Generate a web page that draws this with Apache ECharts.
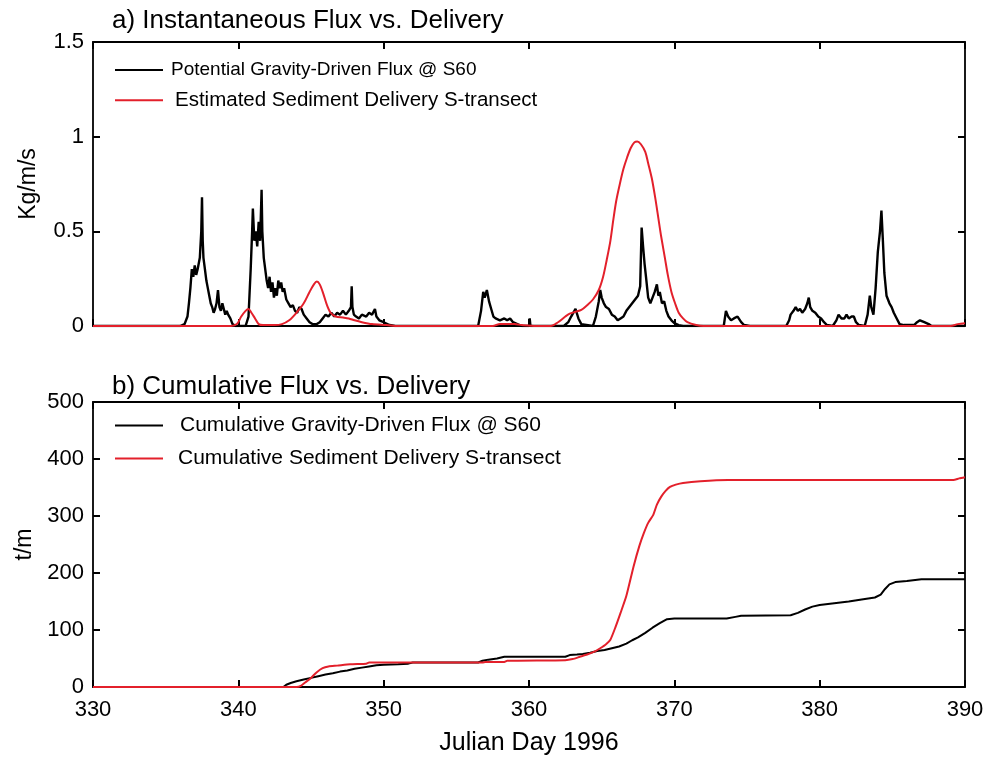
<!DOCTYPE html>
<html>
<head>
<meta charset="utf-8">
<script src="https://cdn.jsdelivr.net/npm/echarts@6/dist/echarts.min.js"></script>
<style>html,body{margin:0;padding:0;background:#fff}#c{width:993px;height:761px}</style>
</head>
<body>
<div id="c"></div>
<script>
// ---- data ----
const xTicks = [330, 340, 350, 360, 370, 380, 390];
const yTicksTop = [0, 0.5, 1, 1.5];
const yTicksBottom = [0, 100, 200, 300, 400, 500];

// a) instantaneous flux (Kg/m/s)
const fluxS60 = [[330,0],[336.0,0],[336.3,0.01],[336.5,0.05],[336.6,0.12],[336.7,0.2],[336.8,0.3],[336.9,0.26],[337.0,0.32],[337.1,0.27],[337.2,0.3],[337.35,0.36],[337.45,0.5],[337.5,0.68],[337.55,0.45],[337.6,0.36],[337.7,0.3],[337.8,0.24],[337.9,0.2],[338.0,0.16],[338.1,0.12],[338.2,0.1],[338.3,0.07],[338.4,0.09],[338.5,0.12],[338.6,0.19],[338.7,0.1],[338.8,0.08],[338.9,0.12],[339.0,0.09],[339.1,0.06],[339.2,0.08],[339.3,0.06],[339.45,0.04],[339.6,0.01],[339.8,0],[340.5,0],[340.7,0.05],[340.85,0.3],[340.95,0.5],[341.0,0.62],[341.1,0.45],[341.2,0.5],[341.3,0.42],[341.4,0.55],[341.5,0.45],[341.6,0.72],[341.65,0.5],[341.75,0.36],[341.85,0.3],[341.95,0.24],[342.05,0.2],[342.15,0.26],[342.25,0.18],[342.35,0.23],[342.45,0.15],[342.55,0.2],[342.65,0.16],[342.75,0.24],[342.85,0.2],[342.95,0.23],[343.05,0.18],[343.15,0.2],[343.3,0.14],[343.45,0.12],[343.6,0.1],[343.75,0.11],[343.9,0.08],[344.05,0.07],[344.2,0.1],[344.35,0.09],[344.5,0.06],[344.7,0.04],[344.9,0.02],[345.1,0.01],[345.4,0.01],[345.6,0.02],[345.8,0.04],[346.0,0.06],[346.2,0.05],[346.4,0.07],[346.6,0.05],[346.8,0.07],[347.0,0.06],[347.2,0.08],[347.4,0.06],[347.6,0.08],[347.75,0.1],[347.8,0.21],[347.85,0.1],[347.95,0.06],[348.1,0.05],[348.3,0.04],[348.5,0.06],[348.6,0.07],[348.8,0.05],[349.0,0.07],[349.2,0.06],[349.4,0.09],[349.5,0.05],[349.7,0.03],[350.0,0.02],[350.4,0.005],[350.8,0],[356.5,0],[356.7,0.08],[356.85,0.18],[356.95,0.15],[357.1,0.19],[357.25,0.13],[357.4,0.09],[357.55,0.05],[357.7,0.04],[358.0,0.03],[358.3,0.04],[358.5,0.03],[358.7,0.04],[358.9,0.02],[359.2,0.01],[359.5,0],[360.0,0],[360.05,0.04],[360.1,0],[362.4,0],[362.7,0.02],[362.9,0.05],[363.2,0.09],[363.4,0.04],[363.6,0.01],[364.4,0],[364.6,0.05],[364.8,0.13],[364.9,0.19],[365.0,0.15],[365.15,0.12],[365.3,0.1],[365.5,0.09],[365.7,0.06],[365.9,0.05],[366.1,0.03],[366.3,0.04],[366.5,0.05],[366.7,0.08],[366.9,0.1],[367.1,0.12],[367.3,0.14],[367.5,0.16],[367.65,0.21],[367.75,0.52],[367.85,0.42],[367.95,0.33],[368.05,0.26],[368.2,0.15],[368.35,0.12],[368.5,0.15],[368.65,0.18],[368.8,0.22],[368.9,0.16],[369.0,0.18],[369.15,0.12],[369.3,0.13],[369.45,0.08],[369.6,0.05],[369.8,0.03],[370.0,0.015],[370.3,0.005],[370.6,0],[373.4,0],[373.55,0.08],[373.7,0.05],[373.9,0.03],[374.1,0.04],[374.35,0.05],[374.6,0.02],[374.8,0.005],[375.2,0],[377.7,0],[377.9,0.03],[378.0,0.06],[378.2,0.08],[378.35,0.1],[378.5,0.08],[378.65,0.09],[378.8,0.07],[379.0,0.09],[379.15,0.12],[379.25,0.15],[379.35,0.1],[379.5,0.08],[379.7,0.07],[379.9,0.05],[380.1,0.04],[380.3,0.02],[380.5,0.005],[380.9,0],[381.15,0.03],[381.3,0.06],[381.5,0.04],[381.7,0.04],[381.85,0.06],[382.0,0.04],[382.2,0.05],[382.35,0.05],[382.5,0.02],[382.7,0.005],[383.1,0],[383.3,0.06],[383.45,0.16],[383.55,0.1],[383.7,0.06],[383.85,0.2],[384.0,0.39],[384.15,0.5],[384.25,0.61],[384.35,0.45],[384.45,0.28],[384.6,0.16],[384.8,0.12],[384.95,0.1],[385.1,0.07],[385.3,0.04],[385.5,0.01],[385.8,0.005],[386.5,0.005],[386.7,0.02],[386.9,0.03],[387.0,0.04],[387.2,0.02],[387.5,0.01],[387.7,0],[390,0]];

const deliveryS = [[330,0],[339.5,0],[339.9,0.01],[340.2,0.05],[340.5,0.08],[340.7,0.09],[340.9,0.07],[341.15,0.04],[341.4,0.01],[341.7,0.005],[342.5,0.005],[343.0,0.01],[343.5,0.03],[344.0,0.07],[344.5,0.12],[344.9,0.18],[345.2,0.22],[345.4,0.235],[345.6,0.22],[345.85,0.17],[346.1,0.11],[346.35,0.07],[346.7,0.05],[347.2,0.045],[347.6,0.04],[348.0,0.03],[348.5,0.02],[349.2,0.01],[350.2,0.005],[351,0],[357.5,0],[358.0,0.01],[359.0,0.01],[359.5,0.005],[360.5,0],[361.5,0],[362.0,0.02],[362.5,0.05],[362.8,0.065],[363.2,0.075],[363.6,0.085],[364.0,0.11],[364.4,0.14],[364.8,0.19],[365.1,0.26],[365.35,0.35],[365.6,0.45],[365.8,0.56],[366.0,0.66],[366.25,0.75],[366.5,0.83],[366.75,0.89],[367.0,0.94],[367.25,0.97],[367.45,0.975],[367.7,0.96],[368.0,0.92],[368.2,0.86],[368.45,0.78],[368.7,0.67],[368.9,0.57],[369.1,0.47],[369.35,0.36],[369.55,0.27],[369.8,0.18],[370.05,0.12],[370.3,0.07],[370.6,0.04],[370.9,0.02],[371.5,0.005],[372,0],[389.0,0],[389.5,0.01],[390,0.015]];

// b) cumulative (t/m)
const cumFluxS60 = [[330,0],[343.1,0],[343.3,4],[343.6,7],[344.0,10],[344.5,13],[345.0,16],[345.5,19],[346.0,22],[346.5,24],[347.0,27],[347.5,29],[348.0,32],[348.5,34],[349.0,36],[349.5,38],[350.0,39],[351.0,40],[351.7,41],[352,43],[356.5,43],[356.8,46],[357.2,48],[357.8,50],[358.3,53],[362.5,53],[362.8,56],[363.3,57],[363.7,58],[364.2,60],[364.7,63],[365.2,65],[365.7,68],[366.2,71],[366.7,76],[367.1,82],[367.5,87],[368.0,95],[368.5,104],[369.0,112],[369.5,119],[370,120],[373.6,120],[374.2,123],[374.6,125],[378.0,126],[378.5,130],[379.0,136],[379.5,141],[380.0,144],[381.0,147],[382.0,150],[383.0,154],[383.8,157],[384.2,162],[384.5,172],[384.8,180],[385.2,184],[386.0,186],[387.0,189],[390,189]];

const cumDeliveryS = [[330,0],[344.0,0],[344.3,2],[344.6,8],[345.0,16],[345.4,26],[345.8,33],[346.2,36],[346.8,37.5],[347.7,40],[348.8,41],[349.0,43],[356.8,43],[357.0,44],[358.3,44],[358.5,46],[362.5,47],[363.0,49],[363.5,53],[364.0,57],[364.5,62],[364.9,68],[365.3,75],[365.6,83],[365.95,105],[366.3,130],[366.7,160],[367.2,212],[367.6,248],[367.9,270],[368.2,288],[368.55,302],[368.8,320],[369.1,334],[369.4,344],[369.7,351],[370.1,355],[370.6,358],[371.8,361],[373.7,363],[389.2,363],[389.6,366],[390,368]];

// ---- chart ----
const FONT = "'Liberation Sans', Arial, sans-serif";
const BLACK = '#000000', RED = '#e3202b';
const chart = echarts.init(document.getElementById('c'), null, {renderer: 'canvas'});

function xAx(grid, pos, labels) {
  return {
    type: 'value', gridIndex: grid, position: pos, min: 330, max: 390, interval: 10,
    axisLine: {show: true, onZero: false, lineStyle: {color: '#000', width: 1.8}},
    axisTick: {show: true, inside: true, length: 7, lineStyle: {color: '#000', width: 2}},
    axisLabel: {show: labels, color: '#000', fontFamily: FONT, fontSize: 22, margin: 12,
      formatter: v => xTicks.includes(v) ? String(v) : ''},
    splitLine: {show: false}
  };
}
function yAx(grid, pos, max, interval, labels, ticks, name, gap) {
  return {
    type: 'value', gridIndex: grid, position: pos, min: 0, max: max, interval: interval,
    name: name || '', nameLocation: 'middle', nameGap: gap || 50,
    nameTextStyle: {color: '#000', fontFamily: FONT, fontSize: 23},
    axisLine: {show: true, onZero: false, lineStyle: {color: '#000', width: 1.8}},
    axisTick: {show: true, inside: true, length: 7, lineStyle: {color: '#000', width: 2}},
    axisLabel: {show: labels, color: '#000', fontFamily: FONT, fontSize: 22, margin: 9,
      formatter: v => ticks.includes(v) ? String(v) : ''},
    splitLine: {show: false}
  };
}

const xA = [xAx(0, 'bottom', false), xAx(0, 'top', false), xAx(1, 'bottom', true), xAx(1, 'top', false)];
xA[2].name = 'Julian Day 1996';
xA[2].nameLocation = 'middle';
xA[2].nameGap = 44;
xA[2].nameTextStyle = {color: '#000', fontFamily: FONT, fontSize: 25};

const option = {
  backgroundColor: '#fff',
  animation: false,
  title: [
    {text: 'a) Instantaneous Flux vs. Delivery', left: 107, top: 3,
      textStyle: {color: '#000', fontFamily: FONT, fontSize: 26, fontWeight: 'normal'}},
    {text: 'b) Cumulative Flux vs. Delivery', left: 107, top: 369,
      textStyle: {color: '#000', fontFamily: FONT, fontSize: 26, fontWeight: 'normal'}}
  ],
  legend: [
    {data: [
        {name: 'Potential Gravity-Driven Flux @ S60', textStyle: {fontSize: 19, padding: [0, 0, 0, 3]}},
        {name: 'Estimated Sediment Delivery S-transect', textStyle: {fontSize: 20.5, padding: [0, 0, 0, 7]}}
      ],
      orient: 'vertical', left: 110, top: 55.5, icon: 'rect', itemWidth: 48, itemHeight: 2, itemGap: 10.2,
      textStyle: {color: '#000', fontFamily: FONT, fontSize: 19}, selectedMode: false},
    {data: [
        {name: 'Cumulative Gravity-Driven Flux @ S60', textStyle: {padding: [0, 0, 0, 12]}},
        {name: 'Cumulative Sediment Delivery S-transect', textStyle: {padding: [0, 0, 0, 10]}}
      ],
      orient: 'vertical', left: 110, top: 410, icon: 'rect', itemWidth: 48, itemHeight: 2, itemGap: 12,
      textStyle: {color: '#000', fontFamily: FONT, fontSize: 21}, selectedMode: false}
  ],
  grid: [
    {left: 93, right: 28, top: 42, height: 284, show: false},
    {left: 93, right: 28, top: 402, height: 285, show: false}
  ],
  xAxis: xA,
  yAxis: [
    yAx(0, 'left', 1.5, 0.5, true, yTicksTop, 'Kg/m/s', 53),
    yAx(0, 'right', 1.5, 0.5, false, yTicksTop),
    yAx(1, 'left', 500, 100, true, yTicksBottom, 't/m', 53),
    yAx(1, 'right', 500, 100, false, yTicksBottom)
  ],
  series: [
    {name: 'Potential Gravity-Driven Flux @ S60', type: 'line', xAxisIndex: 0, yAxisIndex: 0,
      data: fluxS60, symbol: 'none', lineStyle: {color: BLACK, width: 2.4}, itemStyle: {color: BLACK}, z: 3},
    {name: 'Estimated Sediment Delivery S-transect', type: 'line', xAxisIndex: 0, yAxisIndex: 0,
      data: deliveryS, symbol: 'none', smooth: 0.3, lineStyle: {color: RED, width: 2}, itemStyle: {color: RED}, z: 4},
    {name: 'Cumulative Gravity-Driven Flux @ S60', type: 'line', xAxisIndex: 2, yAxisIndex: 2,
      data: cumFluxS60, symbol: 'none', lineStyle: {color: BLACK, width: 2}, itemStyle: {color: BLACK}, z: 3},
    {name: 'Cumulative Sediment Delivery S-transect', type: 'line', xAxisIndex: 2, yAxisIndex: 2,
      data: cumDeliveryS, symbol: 'none', smooth: 0.2, lineStyle: {color: RED, width: 2}, itemStyle: {color: RED}, z: 4}
  ]
};
chart.setOption(option);
</script>
</body>
</html>
